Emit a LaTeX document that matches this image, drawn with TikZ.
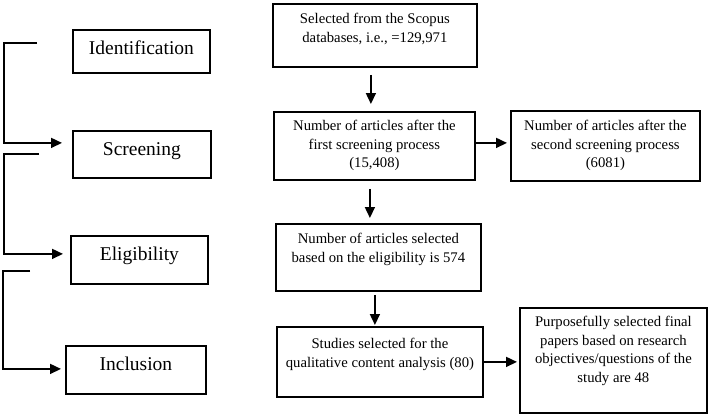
\documentclass[tikz,border=0pt]{standalone}
\usepackage{fontspec}
\setmainfont{Liberation Serif}
\usetikzlibrary{arrows.meta,positioning}
\tikzset{
  box/.style={draw, line width=1.8pt, inner sep=0pt, anchor=north west},
  txt/.style={inner sep=0pt, align=center, font=\fontsize{14.7}{18.7}\selectfont},
  lbl/.style={inner sep=0pt, anchor=base, font=\fontsize{19.5}{22}\selectfont},
  arr/.style={line width=1.6pt, -{Triangle[length=11pt,width=10pt]}}
}
\begin{document}
\begin{tikzpicture}[x=1pt,y=-1pt]
  \useasboundingbox (0,0) rectangle (708,415);
  % stages on the left
  \foreach \nm/\x/\y/\w/\h/\txt in {ident/72/29/137/43/Identification, scr/72/130/138/47/Screening, elig/70/235/137/48/Eligibility, incl/65/345/140/48/Inclusion}{
    \node[box, minimum width=\w pt, minimum height=\h pt] (\nm) at (\x,\y) {};
    \node[lbl] (\nm-t) at ([yshift=-25.5pt]\nm.north) {\txt};
  }
  % records on the right
  \node[box, minimum width=204pt, minimum height=63pt] (scopus) at (272,3) {};
  \node[txt, below=10pt of scopus.north] (scopus-t) {Selected from the Scopus\\databases, i.e., =129,971};
  \node[box, minimum width=201pt, minimum height=68pt] (first) at (273,111) {};
  \node[txt, below=9pt of first.north] (first-t) {Number of articles after the\\first screening process\\(15,408)};
  \node[box, minimum width=189pt, minimum height=70pt] (second) at (510,110) {};
  \node[txt, below=10pt of second.north] (second-t) {Number of articles after the\\second screening process\\(6081)};
  \node[box, minimum width=205pt, minimum height=67pt] (sel) at (275,223) {};
  \node[txt, below=10pt of sel.north] (sel-t) {Number of articles selected\\based on the eligibility is 574};
  \node[box, minimum width=206pt, minimum height=70pt] (qual) at (276,326) {};
  \node[txt, below=12pt of qual.north] (qual-t) {Studies selected for the\\qualitative content analysis (80)};
  \node[box, minimum width=187pt, minimum height=105pt] (final) at (519,307) {};
  \node[txt, below=9pt of final.north] (final-t) {Purposefully selected final\\papers based on research\\objectives/questions of the\\study are 48};
  % arrows
  \draw[arr, shorten <=7pt, shorten >=7pt] ([xshift=-4pt]scopus.south) -- ([xshift=-4pt]scopus.south |- first.north);
  \draw[arr, shorten <=8pt, shorten >=5pt] ([xshift=-4.5pt]first.south) -- ([xshift=-4.5pt]first.south |- sel.north);
  \draw[arr, shorten <=3pt, shorten >=1pt] ([xshift=-3.5pt]sel.south) -- ([xshift=-3.5pt]sel.south |- qual.north);
  \draw[arr, shorten >=3pt] ([yshift=3pt]first.east) -- ([yshift=3pt]first.east -| second.west);
  \draw[arr, shorten >=2pt] (qual.east) -- (qual.east -| final.west);
  % brackets
  \coordinate (brk1) at (37,43);
  \coordinate (brk2) at (39,154);
  \coordinate (brk3) at (30,271);
  \draw[arr] (brk1) -- ++(-33,0) |- ([xshift=-10pt,yshift=11.5pt]scr.west);
  \draw[arr] (brk2) -- ++(-35,0) |- ([xshift=-7pt,yshift=6pt]elig.west);
  \draw[arr] (brk3) -- ++(-27,0) |- ([xshift=-4pt,yshift=1pt]incl.west);
\end{tikzpicture}
\end{document}
